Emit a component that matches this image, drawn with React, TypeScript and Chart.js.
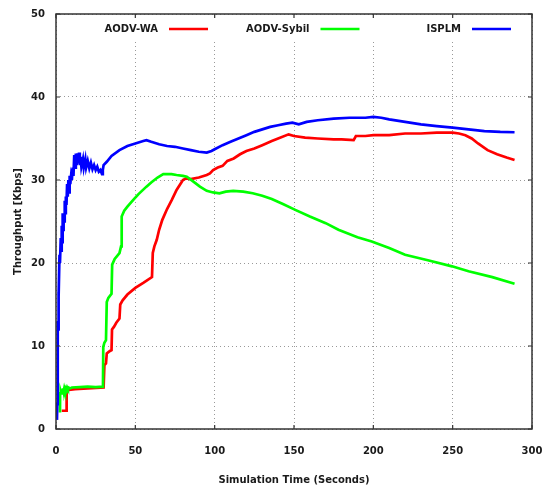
import React, { useEffect, useRef } from "react";
import { Chart, registerables } from "chart.js";

Chart.register(...registerables);

const seriesNames = ["AODV-WA", "AODV-Sybil", "ISPLM"];
const seriesColors = ["#ff0000", "#00ff00", "#0000ff"];

const xTicks = [0, 50, 100, 150, 200, 250, 300];
const yTicks = [0, 10, 20, 30, 40, 50];

const aodvWA: [number, number][] = [
  [3.6, 2.2], [6.6, 2.2], [6.7, 4.4], [8, 4.7], [12, 4.8], [20, 4.9], [30, 5.0],
  [30.5, 7.7], [31.5, 7.9], [32, 9.1], [34, 9.4], [35, 9.5], [35.3, 12], [36.5, 12.3],
  [38, 12.8], [40, 13.3], [40.5, 15], [42, 15.5], [45, 16.2], [50, 17], [55, 17.6],
  [60.5, 18.3], [61, 21.2], [62, 22], [63.5, 22.8], [65, 24], [67, 25.2], [70, 26.5],
  [73, 27.6], [76, 28.8], [78, 29.4], [80, 30], [82, 30.2], [85, 30.1], [90, 30.3],
  [95, 30.6], [97, 30.8], [99, 31.2], [102, 31.5], [105, 31.7], [108, 32.3], [112, 32.6],
  [116, 33.1], [120, 33.5], [125, 33.8], [130, 34.2], [136, 34.7], [140, 35.0],
  [146.6, 35.5], [150, 35.3], [157, 35.1], [165, 35.0], [175, 34.9], [180, 34.9],
  [187.6, 34.8], [189, 35.3], [195, 35.3], [200, 35.4], [210, 35.4], [220, 35.6],
  [230, 35.6], [240, 35.7], [250, 35.7], [254, 35.6], [258, 35.4], [262, 35.0],
  [266, 34.4], [272, 33.6], [278, 33.1], [284, 32.7], [289, 32.4],
];

const aodvSybil: [number, number][] = [
  [2.5, 2.0], [2.6, 4.3], [3, 4.5], [3.3, 4.3], [3.6, 4.8], [4, 4.4], [4.4, 4.9],
  [4.8, 4.5], [5.2, 4.9], [5.6, 4.6], [6, 4.9], [6.5, 4.7], [7, 5.0], [7.5, 4.8],
  [8, 5.0], [9, 4.9], [10, 5.0], [15, 5.05], [20, 5.1], [25, 5.05], [29.6, 5.1],
  [29.8, 9.9], [30.5, 10.4], [31.5, 10.7], [32, 15.3], [33, 15.8], [35, 16.3],
  [35.4, 19.8], [37, 20.5], [40, 21.2], [41, 22], [41.4, 25.6], [43, 26.3], [45, 26.8],
  [48.7, 27.6], [52, 28.3], [57, 29.2], [60, 29.7], [64, 30.3], [67.6, 30.7],
  [72.8, 30.7], [76, 30.6], [80, 30.5], [82.4, 30.4], [86, 29.9], [90.7, 29.2],
  [95, 28.7], [99, 28.5], [103, 28.4], [107, 28.6], [111.7, 28.7], [118, 28.6],
  [124, 28.4], [130, 28.1], [136, 27.7], [143, 27.1], [150.8, 26.4], [160, 25.6],
  [170, 24.8], [178, 24.0], [190, 23.1], [199, 22.6], [210, 21.8], [220, 21.0],
  [235, 20.3], [249.6, 19.6], [260, 19.0], [275, 18.3], [289, 17.5],
];

const isplm: [number, number][] = [
  [0.6, 1.1], [0.8, 3], [1.0, 8], [1.2, 13], [1.3, 12], [1.5, 16.5], [1.8, 16],
  [2.2, 21], [2.5, 20], [3.0, 23], [3.3, 21.5], [3.6, 24.5], [3.9, 22.5], [4.2, 26],
  [4.5, 24], [4.8, 26], [5.2, 25], [5.5, 27.5], [5.8, 26], [6.2, 28], [6.6, 27],
  [7.0, 29.5], [7.4, 28], [7.8, 30], [8.2, 28.5], [8.6, 30.5], [9.0, 29.5], [9.5, 30.5],
  [10, 30], [10.5, 31.5], [11, 30.5], [11.5, 33], [12, 31.5], [12.5, 33.2], [13, 31.8],
  [13.5, 33.2], [14, 32], [14.5, 33.3], [15, 31.8], [15.5, 32.8], [16, 31.6],
  [17, 32.5], [17.5, 31.5], [18.5, 32.5], [19, 31.5], [20, 32.3], [21, 31.4],
  [22, 32.1], [23, 31.3], [24, 31.8], [25, 31.2], [26, 31.6], [27, 31], [28, 31.2],
  [29, 30.7], [29.5, 31.2], [30, 31.8], [32, 32.2], [35, 32.9], [40, 33.6], [45, 34.1],
  [50, 34.4], [55, 34.7], [57, 34.8], [60, 34.6], [65, 34.3], [70, 34.1], [75, 34.0],
  [80, 33.8], [85, 33.6], [90, 33.4], [95, 33.3], [98, 33.5], [100, 33.7], [105, 34.2],
  [110, 34.6], [115, 35.0], [120, 35.4], [125, 35.8], [130, 36.1], [135, 36.4],
  [140, 36.6], [145, 36.8], [149, 36.9], [153, 36.7], [158, 37.0], [165, 37.2],
  [175, 37.4], [185, 37.5], [195, 37.5], [200, 37.6], [205, 37.5], [210, 37.3],
  [220, 37.0], [230, 36.7], [240, 36.5], [250, 36.3], [260, 36.1], [270, 35.9],
  [280, 35.8], [289, 35.75],
];

const FONT = "'DejaVu Sans', sans-serif";
const TEXT = "#1a1a1a";

const framePlugin = {
  id: "frame",
  beforeDatasetsDraw(chart: any) {
    const { ctx, chartArea } = chart;
    const { left, right, top } = chartArea;
    ctx.save();
    ctx.fillStyle = "#ffffff";
    ctx.fillRect(left + 1, top + 1, right - left - 2, 26);
    ctx.restore();
  },
  afterDatasetsDraw(chart: any) {
    const { ctx, chartArea, scales } = chart;
    const { left, right, top, bottom } = chartArea;
    ctx.save();
    ctx.strokeStyle = "#333333";
    ctx.lineWidth = 1.5;
    ctx.strokeRect(left, top, right - left, bottom - top);
    ctx.lineWidth = 1.2;
    const tl = 4;
    ctx.beginPath();
    xTicks.forEach((v) => {
      const px = scales.x.getPixelForValue(v);
      ctx.moveTo(px, bottom);
      ctx.lineTo(px, bottom - tl);
      ctx.moveTo(px, top);
      ctx.lineTo(px, top + tl);
    });
    yTicks.forEach((v) => {
      const py = scales.y.getPixelForValue(v);
      ctx.moveTo(left, py);
      ctx.lineTo(left + tl, py);
      ctx.moveTo(right, py);
      ctx.lineTo(right - tl, py);
    });
    ctx.stroke();

    // legend
    ctx.font = `bold 10px ${FONT}`;
    ctx.textAlign = "right";
    ctx.textBaseline = "middle";
    const ly = top + 15;
    seriesNames.forEach((name, i) => {
      const textEnd = left + 102 + i * 151.5;
      ctx.fillStyle = TEXT;
      ctx.fillText(name, textEnd, ly);
      ctx.strokeStyle = seriesColors[i];
      ctx.lineWidth = 2.5;
      ctx.beginPath();
      ctx.moveTo(textEnd + 11, ly);
      ctx.lineTo(textEnd + 50, ly);
      ctx.stroke();
    });
    ctx.restore();
  },
};

export default function App() {
  const ref = useRef<HTMLCanvasElement>(null);
  useEffect(() => {
    document.body.style.margin = "0";
    const series = [aodvWA, aodvSybil, isplm];
    const chart = new Chart(ref.current!, {
      type: "line",
      data: {
        datasets: series.map((s, i) => ({
          label: seriesNames[i],
          data: s.map(([x, y]) => ({ x, y })),
          borderColor: seriesColors[i],
          backgroundColor: seriesColors[i],
          borderWidth: 2.7,
          pointRadius: 0,
          tension: 0,
          fill: false,
          order: 2 - i,
        })),
      },
      options: {
        responsive: false,
        animation: false,
        layout: { padding: { left: 0, right: 12, top: 14, bottom: 0 } },
        plugins: { legend: { display: false }, tooltip: { enabled: false } },
        scales: {
          x: {
            type: "linear",
            min: 0,
            max: 300,
            afterFit: (s: any) => {
              s.height = 57;
              s.paddingLeft = 0;
              s.paddingRight = 0;
            },
            afterBuildTicks: (s: any) => {
              s.ticks = xTicks.map((v) => ({ value: v }));
            },
            ticks: {
              font: { family: FONT, weight: "bold", size: 10 },
              color: TEXT,
              padding: 16,
              maxRotation: 0,
            },
            grid: {
              color: "#999999",
              lineWidth: 1,
              drawTicks: false,
              tickLength: 0,
            },
            border: { display: false, dash: [1, 3] },
            title: {
              display: true,
              text: "Simulation Time (Seconds)",
              font: { family: FONT, weight: "bold", size: 10 },
              color: TEXT,
              padding: { top: 0, bottom: 0 },
            },
          },
          y: {
            type: "linear",
            min: 0,
            max: 50,
            afterFit: (s: any) => {
              s.width = 56;
              s.paddingTop = 0;
              s.paddingBottom = 0;
            },
            afterBuildTicks: (s: any) => {
              s.ticks = yTicks.map((v) => ({ value: v }));
            },
            ticks: {
              font: { family: FONT, weight: "bold", size: 10 },
              color: TEXT,
              padding: 11,
            },
            grid: {
              color: "#999999",
              lineWidth: 1,
              drawTicks: false,
              tickLength: 0,
            },
            border: { display: false, dash: [1, 3] },
            title: {
              display: true,
              text: "Throughput [Kbps]",
              font: { family: FONT, weight: "bold", size: 10 },
              color: TEXT,
              padding: { top: 12, bottom: 0 },
            },
          },
        },
      },
      plugins: [framePlugin],
    });
    return () => chart.destroy();
  }, []);
  return (
    <div style={{ width: 544, height: 486 }}>
      <canvas ref={ref} width={544} height={486} />
    </div>
  );
}
